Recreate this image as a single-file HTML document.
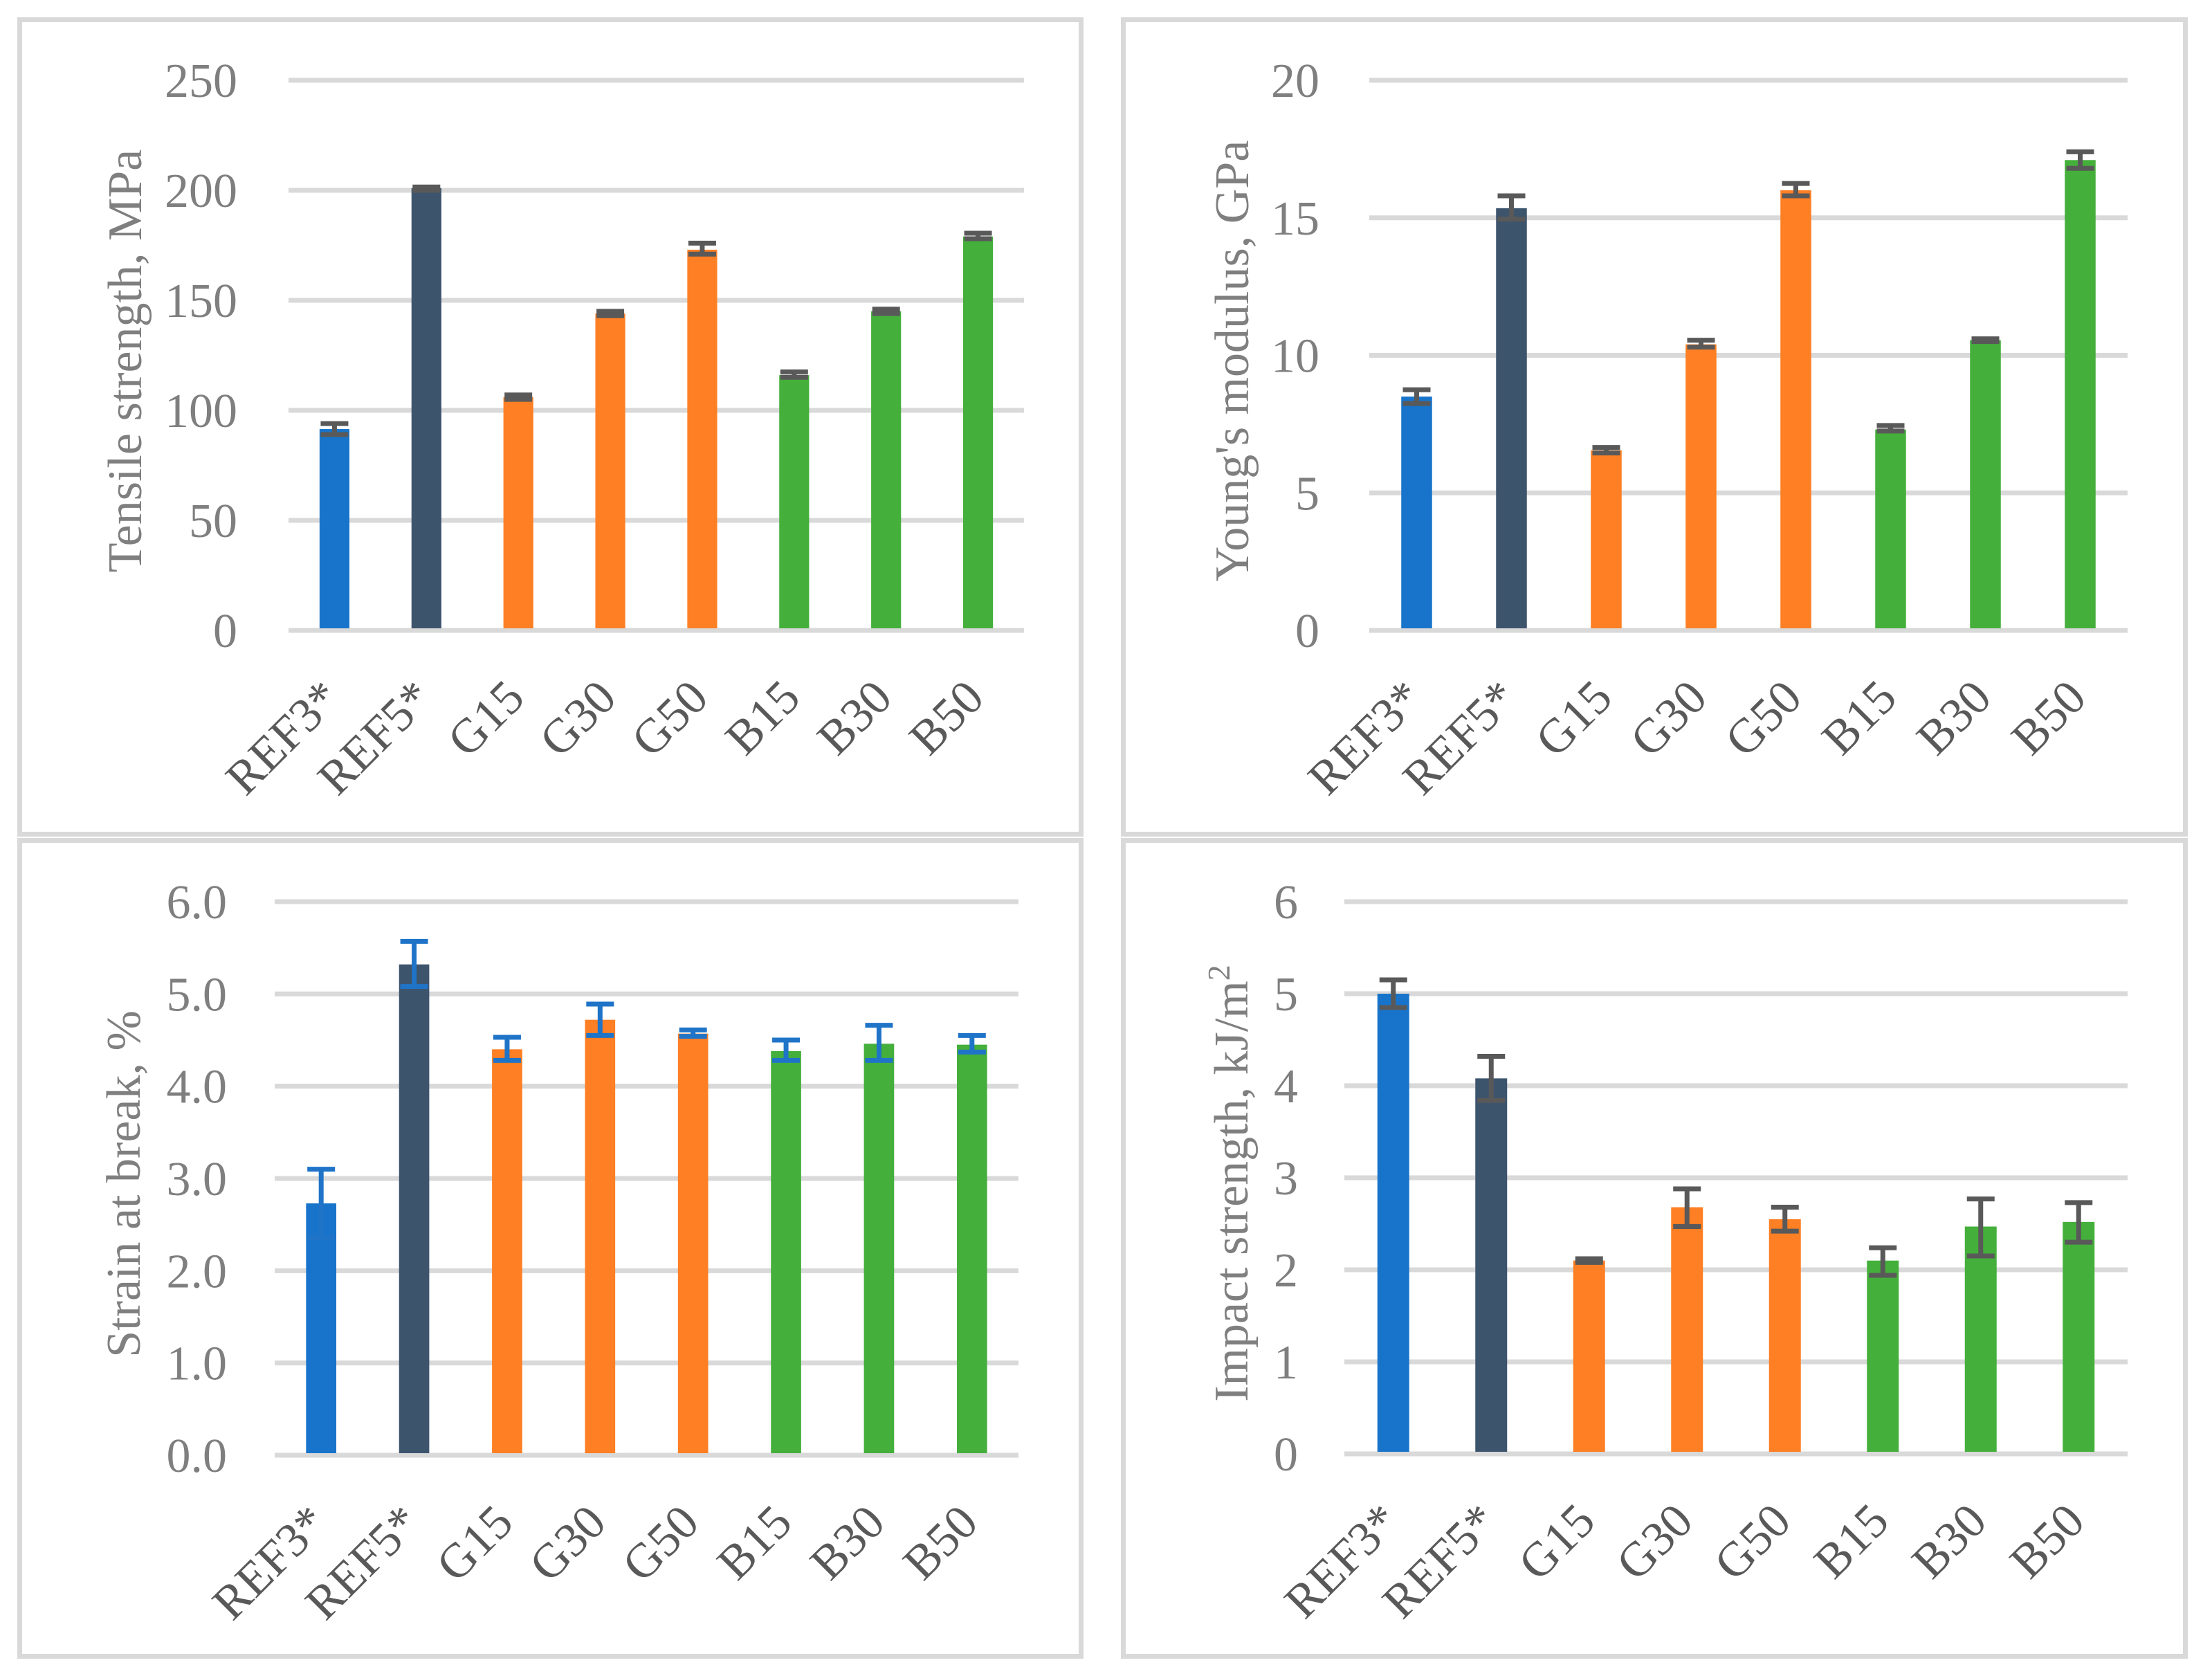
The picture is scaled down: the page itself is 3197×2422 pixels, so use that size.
<!DOCTYPE html>
<html><head><meta charset="utf-8"><style>
html,body{margin:0;padding:0;background:#fff;}
svg{display:block;}
text{font-family:"Liberation Serif",serif;}
</style></head><body>
<svg id="fig" width="3197" height="2422" viewBox="0 0 3197 2422" xmlns="http://www.w3.org/2000/svg">
<rect x="0" y="0" width="3197" height="2422" fill="#fff"/>
</svg>
<script>
const categories = ["REF3*","REF5*","G15","G30","G50","B15","B30","B50"];
const barColors = ["#1874ca","#3d546d","#fe7f24","#fe7f24","#fe7f24","#45af3b","#45af3b","#45af3b"];

const tensileValues = [91.5, 201, 106, 144, 173, 116, 145, 179];
const tensileErrLow = [89, 200, 105, 143, 171, 115, 144, 178];
const tensileErrHigh = [94, 201.5, 107, 145, 176, 117.5, 146, 180.5];
const tensileTicks = ["0","50","100","150","200","250"];

const modulusValues = [8.5, 15.35, 6.55, 10.4, 16.0, 7.3, 10.55, 17.1];
const modulusErrLow = [8.25, 14.95, 6.45, 10.3, 15.8, 7.25, 10.5, 16.8];
const modulusErrHigh = [8.75, 15.8, 6.65, 10.55, 16.25, 7.45, 10.6, 17.4];
const modulusTicks = ["0","5","10","15","20"];

const strainValues = [2.73, 5.32, 4.4, 4.72, 4.57, 4.38, 4.46, 4.45];
const strainErrLow = [2.36, 5.08, 4.28, 4.55, 4.54, 4.28, 4.28, 4.37];
const strainErrHigh = [3.1, 5.57, 4.53, 4.89, 4.61, 4.5, 4.66, 4.55];
const strainTicks = ["0.0","1.0","2.0","3.0","4.0","5.0","6.0"];

const impactValues = [5.0, 4.08, 2.1, 2.68, 2.55, 2.1, 2.47, 2.52];
const impactErrLow = [4.85, 3.84, 2.08, 2.47, 2.42, 1.94, 2.15, 2.3];
const impactErrHigh = [5.15, 4.32, 2.12, 2.88, 2.68, 2.24, 2.77, 2.73];
const impactTicks = ["0","1","2","3","4","5","6"];

const NS = "http://www.w3.org/2000/svg";
const svg = document.getElementById("fig");
function mk(tag, attrs, parent){
  const e = document.createElementNS(NS, tag);
  for (const k in attrs) e.setAttribute(k, attrs[k]);
  (parent||svg).appendChild(e);
  return e;
}

function drawPanel(p){
  const g = mk("g", {});
  
  
  const border = mk("rect", {x:p.bx, y:p.by, width:p.bw, height:p.bh, fill:"#fff", stroke:"#d9d9d9", "stroke-width":7}, g);
  
  
  const n = categories.length;
  const step = (p.right - p.left)/n;
  const maxV = Number(p.ticks[p.ticks.length-1]);
  const y = v => p.y0 - (v/maxV)*(p.y0 - p.ytop);
  const xc = i => p.left + step*(i+0.5);
  // gridlines & tick labels
  p.ticks.forEach(t => {
    const yy = y(Number(t));
    const gl = mk("line", {x1:p.left, x2:p.right, y1:yy, y2:yy, stroke:"#d9d9d9", "stroke-width":7}, g);
    
    
    const tl = mk("text", {x:p.tickX, y:yy+24, "text-anchor":"end", "font-size":70, fill:"#7f7f7f"}, g);
    tl.textContent = t;
    
    
  });
  const bw = step*0.325;
  categories.forEach((c,i) => {
    const top = y(p.values[i]);
    const b = mk("rect", {x:xc(i)-bw/2, y:top, width:bw, height:p.y0-3-top, fill:barColors[i]}, g);
    
    
    const yl = y(p.errLow[i]), yh = y(p.errHigh[i]);
    const eg = mk("g", {stroke:p.errColor, "stroke-width":7, fill:"none"}, g);
    
    
    mk("line", {x1:xc(i), x2:xc(i), y1:yl, y2:yh}, eg);
    mk("line", {x1:xc(i)-20, x2:xc(i)+20, y1:yl, y2:yl}, eg);
    mk("line", {x1:xc(i)-20, x2:xc(i)+20, y1:yh, y2:yh}, eg);
    const lx = xc(i)+12, ly = p.y0+101;
    const xl = mk("text", {x:lx, y:ly, "text-anchor":"end", "font-size":70, fill:"#595959", transform:"rotate(-45 "+lx+" "+ly+")"}, g);
    xl.textContent = c;
    
    
  });
  const cy = (p.y0 + p.ytop)/2 + 8;
  const at = mk("text", {x:p.titleX, y:cy, "text-anchor":"middle", "font-size":70, fill:"#7f7f7f", transform:"rotate(-90 "+p.titleX+" "+cy+")"}, g);
  
  
  at.textContent = p.title;
  if (p.sup){
    const s = mk("tspan", {"font-size":46, dy:-26}, at);
    s.textContent = p.sup;
  }
}

drawPanel({name:"tensile-strength-chart", bx:28.5, by:28.5, bw:1534, bh:1177, left:417, right:1480, y0:911, ytop:116,
  ticks:tensileTicks, values:tensileValues, errLow:tensileErrLow, errHigh:tensileErrHigh, errColor:"#595959",
  tickX:343, titleX:204, title:"Tensile strength, MPa"});
drawPanel({name:"youngs-modulus-chart", bx:1623.5, by:28.5, bw:1535, bh:1177, left:1979, right:3075, y0:911, ytop:116,
  ticks:modulusTicks, values:modulusValues, errLow:modulusErrLow, errHigh:modulusErrHigh, errColor:"#595959",
  tickX:1907, titleX:1804, title:"Young's modulus, GPa"});
drawPanel({name:"strain-at-break-chart", bx:28.5, by:1214.5, bw:1534, bh:1179, left:397, right:1472, y0:2103, ytop:1303,
  ticks:strainTicks, values:strainValues, errLow:strainErrLow, errHigh:strainErrHigh, errColor:"#1f74c8",
  tickX:328, titleX:202, title:"Strain at break, %"});
drawPanel({name:"impact-strength-chart", bx:1623.5, by:1214.5, bw:1535, bh:1179, left:1943, right:3075, y0:2101, ytop:1303,
  ticks:impactTicks, values:impactValues, errLow:impactErrLow, errHigh:impactErrHigh, errColor:"#595959",
  tickX:1876, titleX:1803, title:"Impact strength, kJ/m", sup:"2"});
</script>
</body></html>
